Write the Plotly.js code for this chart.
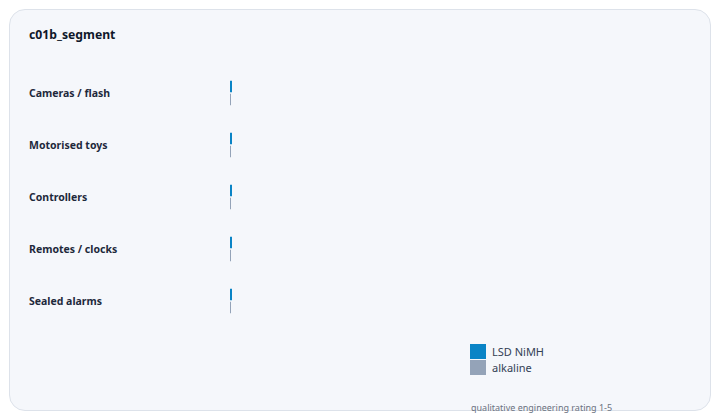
<!DOCTYPE html>
<html>
<head>
<meta charset="utf-8">
<script src="https://cdn.plot.ly/plotly-3.0.1.min.js"></script>
<style>
  body { margin: 0; background: #ffffff; }
  #card {
    position: absolute; left: 9px; top: 9px; width: 700px; height: 400px;
    background: #f5f7fb; border: 1.5px solid #dde2ea; border-radius: 16px;
  }
  #chart { position: absolute; left: 0; top: 0; width: 720px; height: 420px; }
</style>
</head>
<body>
<div id="card"></div>
<div id="chart"></div>
<script>
// segments, top to bottom
const segments = ["Cameras / flash", "Motorised toys", "Controllers", "Remotes / clocks", "Sealed alarms"];
const nimhValues = [4, 4, 4, 4, 4];
const alkalineValues = [2, 2, 2, 2, 2];
const seriesNames = ["LSD NiMH", "alkaline"];
const seriesColors = ["#0a84c6", "#94a3b8"];
const footnote = "qualitative engineering rating 1-5";

const font = "'Noto Sans', 'Open Sans', sans-serif";

const traces = [nimhValues, alkalineValues].map((vals, i) => ({
    type: 'bar',
    orientation: 'h',
    name: seriesNames[i],
    y: segments,
    x: vals,
    marker: { color: seriesColors[i] },
    hoverinfo: 'skip'
}));

// plot area is 230..700 px wide, 67..327 px tall
const toPx = (px) => (px - 230) / 470;
const toPy = (py) => (327 - py) / 260;

const labelNotes = segments.map(s => ({
    text: s, xref: 'paper', yref: 'y', x: 0, y: s,
    xshift: -203, xanchor: 'left', showarrow: false,
    font: { family: font, size: 10.5, color: '#1e293b', weight: 700 }
}));

// custom legend: square swatches stacked
const legendShapes = seriesColors.map((c, i) => ({
    type: 'rect', xref: 'paper', yref: 'paper', line: { width: 0 }, fillcolor: c,
    x0: toPx(470), x1: toPx(486),
    y0: toPy(359 + i * 16), y1: toPy(344 + i * 16)
}));
const legendNotes = seriesNames.map((n, i) => ({
    text: n, xref: 'paper', yref: 'paper', x: toPx(490), y: toPy(351 + i * 16),
    xanchor: 'left', yanchor: 'middle', showarrow: false,
    font: { family: font, size: 11, color: '#334155' }
}));

const layout = {
    width: 720, height: 420,
    margin: { l: 230, r: 20, t: 67, b: 93 },
    paper_bgcolor: 'rgba(0,0,0,0)',
    plot_bgcolor: 'rgba(0,0,0,0)',
    title: {
        text: 'c01b_segment', xref: 'container', yref: 'container',
        x: 29 / 720, xanchor: 'left', y: 1 - 35 / 420, yanchor: 'middle',
        font: { family: font, size: 12.2, color: '#0f172a', weight: 700 }
    },
    barmode: 'group',
    bargap: 0.5,
    bargroupgap: 0.1,
    showlegend: false,
    xaxis: { visible: false, range: [0, 940], fixedrange: true },
    yaxis: {
        type: 'category', autorange: 'reversed', showticklabels: false,
        showgrid: false, zeroline: false, showline: false, fixedrange: true
    },
    shapes: legendShapes,
    annotations: labelNotes.concat(legendNotes, [{
        text: footnote, xref: 'paper', yref: 'paper', x: toPx(469), y: toPy(407),
        xanchor: 'left', yanchor: 'middle', showarrow: false,
        font: { family: font, size: 9, color: '#6b7280' }
    }])
};

Plotly.newPlot('chart', traces, layout, { displayModeBar: false, staticPlot: true });
</script>
</body>
</html>
